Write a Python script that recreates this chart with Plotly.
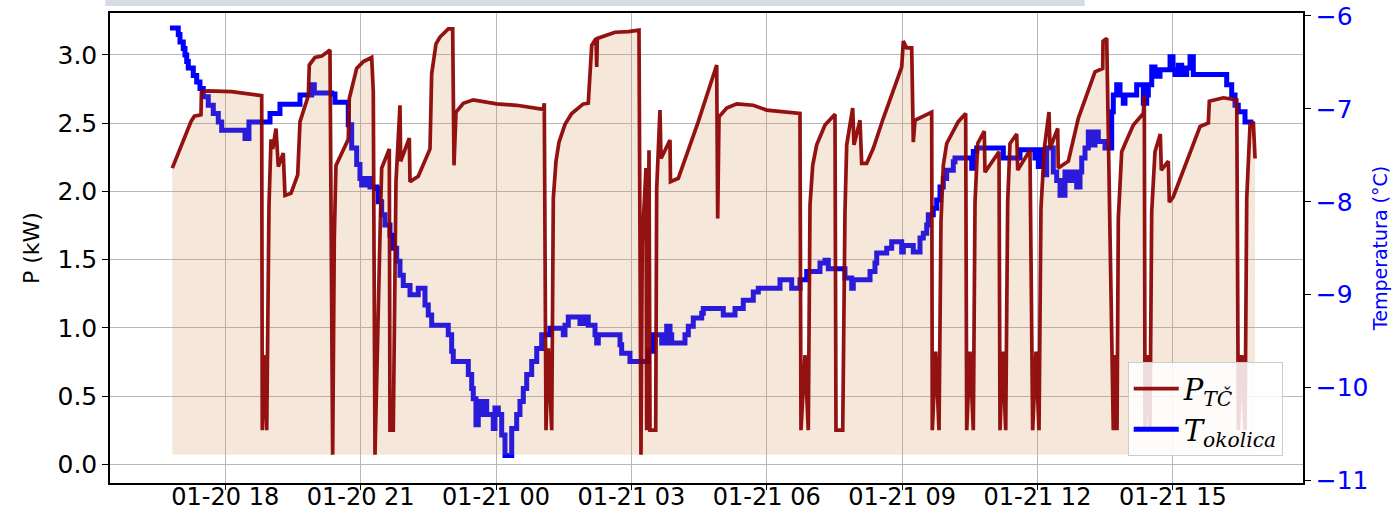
import pandas as pd
import plotly.graph_objects as go

# hours since 2024-01-20 00:00
p_hours = [16.825, 17.24, 17.313, 17.461, 17.472, 17.623, 18.142, 18.51, 18.807, 18.82,
           18.851, 18.918, 18.969, 19.013, 19.051, 19.124, 19.175, 19.285, 19.323, 19.456,
           19.605, 19.656, 19.84, 19.862, 19.988, 20.137, 20.32, 20.38, 20.416, 20.453,
           20.726, 20.748, 20.912, 21.059, 21.245, 21.28, 21.318, 21.429, 21.466, 21.635,
           21.65, 21.723, 21.783, 21.872, 21.887, 22.078, 22.094, 22.277, 22.537, 22.574,
           22.67, 22.758, 22.942, 23.04, 23.069, 23.113, 23.275, 23.496, 23.867, 24.015,
           24.458, 24.975, 25.048, 25.07, 25.108, 25.159, 25.234, 25.27, 25.329, 25.396,
           25.529, 25.677, 25.934, 26.045, 26.121, 26.216, 26.232, 26.245, 26.342, 26.637,
           26.932, 27.169, 27.213, 27.242, 27.324, 27.339, 27.391, 27.413, 27.539, 27.561,
           27.634, 27.657, 27.856, 27.867, 28.04, 28.483, 28.891, 28.913, 28.942, 29.075,
           29.113, 29.334, 29.702, 29.999, 30.443, 30.737, 30.759, 30.848, 30.921, 30.959,
           31.019, 31.107, 31.291, 31.513, 31.535, 31.684, 31.734, 31.772, 31.905, 31.934,
           32.067, 32.104, 32.215, 32.362, 32.583, 32.991, 33.027, 33.102, 33.213, 33.248,
           33.286, 33.656, 33.669, 33.745, 33.818, 33.862, 33.913, 33.988, 34.245, 34.409,
           34.432, 34.505, 34.578, 34.616, 34.676, 34.822, 34.837, 35.148, 35.17, 35.23,
           35.296, 35.34, 35.391, 35.54, 35.562, 35.834, 35.894, 35.967, 36.034, 36.078,
           36.152, 36.256, 36.278, 36.449, 36.462, 36.684, 36.905, 37.275, 37.446, 37.453,
           37.535, 37.681, 37.73, 37.763, 37.792, 37.867, 37.978, 38.125, 38.346, 38.368,
           38.384, 38.44, 38.494, 38.532, 38.605, 38.723, 38.745, 38.9, 38.922, 39.01,
           39.604, 39.787, 39.809, 40.119, 40.417, 40.452, 40.527, 40.6, 40.638, 40.711,
           40.784, 40.822]
p_kw = [2.17, 2.51, 2.55, 2.56, 2.73, 2.735, 2.73, 2.71, 2.70, 0.25,
        0.80, 0.25, 1.90, 2.38, 2.31, 2.46, 2.18, 2.28, 1.97, 1.985,
        2.12, 2.51, 2.70, 2.925, 2.98, 2.99, 3.035, 0.07, 1.66, 2.19,
        2.38, 2.68, 2.90, 2.95, 2.98, 2.73, 0.07, 1.68, 2.17, 2.31,
        0.25, 0.25, 2.07, 2.63, 2.22, 2.39, 2.07, 2.11, 2.31, 2.86,
        3.08, 3.13, 3.19, 3.19, 2.19, 2.58, 2.645, 2.67, 2.65, 2.64,
        2.63, 2.60, 2.60, 2.645, 0.25, 0.85, 0.25, 1.95, 2.22, 2.36,
        2.49, 2.57, 2.64, 2.645, 3.07, 3.12, 2.91, 3.12, 3.13, 3.165,
        3.17, 3.18, 0.07, 1.63, 2.17, 0.25, 2.30, 0.25, 0.25, 2.02,
        2.595, 2.24, 2.375, 2.07, 2.095, 2.51, 2.925, 1.80, 2.545, 2.595,
        2.61, 2.64, 2.63, 2.595, 2.58, 2.57, 0.25, 0.80, 0.25, 1.90,
        2.19, 2.34, 2.485, 2.565, 0.25, 0.25, 1.85, 2.34, 2.61, 2.34,
        2.52, 2.205, 2.205, 2.315, 2.535, 2.91, 3.10, 3.05, 3.05, 2.36,
        2.52, 2.58, 0.25, 0.825, 0.25, 1.78, 2.19, 2.35, 2.51, 2.57,
        0.25, 0.825, 0.25, 1.92, 2.35, 2.44, 2.14, 2.29, 0.25, 0.825,
        0.25, 1.92, 2.35, 2.42, 2.155, 2.30, 0.25, 0.825, 0.25, 1.875,
        2.315, 2.58, 2.315, 2.46, 2.17, 2.22, 2.535, 2.875, 2.90, 3.10,
        3.12, 0.25, 0.80, 0.25, 1.80, 2.29, 2.375, 2.485, 2.57, 2.705,
        0.25, 0.80, 0.25, 1.85, 2.29, 2.42, 2.155, 2.22, 1.92, 1.96,
        2.475, 2.50, 2.66, 2.685, 2.67, 0.25, 0.80, 0.25, 1.95, 2.485,
        2.51, 2.24]

t_hours = [16.774, 16.923, 16.958, 16.996, 17.069, 17.107, 17.145, 17.18, 17.291, 17.366,
           17.439, 17.512, 17.623, 17.734, 17.845, 17.92, 18.399, 18.437, 18.51, 18.525,
           18.953, 18.991, 19.18, 19.212, 19.618, 19.656, 19.84, 19.915, 19.973, 20.358,
           20.431, 20.691, 20.726, 20.801, 20.912, 20.985, 21.023, 21.134, 21.207, 21.356,
           21.391, 21.466, 21.539, 21.65, 21.723, 21.799, 21.872, 21.945, 22.094, 22.242,
           22.277, 22.353, 22.426, 22.499, 22.574, 22.869, 22.942, 23.017, 23.053, 23.313,
           23.386, 23.461, 23.496, 23.556, 23.607, 23.645, 23.718, 23.793, 23.904, 23.94,
           23.977, 24.051, 24.126, 24.199, 24.31, 24.348, 24.458, 24.531, 24.605, 24.68,
           24.791, 24.902, 25.012, 25.196, 25.418, 25.491, 25.529, 25.602, 25.824, 25.861,
           25.934, 26.045, 26.194, 26.231, 26.267, 26.71, 26.748, 26.785, 26.932, 26.969,
           27.302, 27.375, 27.486, 27.634, 27.672, 27.783, 27.856, 27.894, 28.115, 28.188,
           28.262, 28.372, 28.559, 28.594, 28.964, 29.037, 29.259, 29.297, 29.48, 29.702,
           29.813, 30.221, 30.294, 30.478, 30.553, 30.699, 30.737, 30.886, 31.07, 31.18,
           31.291, 31.364, 31.624, 31.734, 31.883, 31.918, 32.215, 32.289, 32.399, 32.437,
           32.659, 32.769, 32.953, 32.991, 33.027, 33.213, 33.248, 33.324, 33.397, 33.47,
           33.545, 33.581, 33.691, 33.767, 33.84, 33.913, 33.988, 34.135, 34.172, 34.505,
           34.543, 34.578, 34.653, 35.207, 35.243, 35.569, 35.613, 35.834, 35.945, 36.019,
           36.056, 36.167, 36.205, 36.3, 36.351, 36.426, 36.5, 36.573, 36.61, 36.684,
           36.794, 36.87, 36.943, 36.981, 37.054, 37.127, 37.238, 37.275, 37.348, 37.497,
           37.57, 37.645, 37.681, 37.756, 37.83, 37.902, 37.94, 38.124, 38.199, 38.273,
           38.346, 38.421, 38.457, 38.532, 38.605, 38.672, 38.716, 38.864, 38.938, 39.004,
           39.048, 39.122, 39.197, 39.308, 39.381, 39.454, 40.119, 40.194, 40.305, 40.378,
           40.451, 40.562, 40.6, 40.784]
t_degc = [-6.13, -6.13, -6.20, -6.28, -6.35, -6.42, -6.49, -6.56, -6.64, -6.71,
          -6.78, -6.87, -6.96, -7.05, -7.14, -7.23, -7.23, -7.32, -7.32, -7.14,
          -7.14, -7.05, -7.05, -6.95, -6.95, -6.85, -6.85, -6.74, -6.83, -6.84,
          -6.93, -6.93, -7.17, -7.42, -7.60, -7.75, -7.82, -7.75, -7.84, -7.86,
          -8.00, -8.14, -8.25, -8.36, -8.50, -8.64, -8.79, -8.90, -9.00, -9.00,
          -8.93, -8.93, -9.11, -9.22, -9.33, -9.33, -9.43, -9.61, -9.72, -9.72,
          -9.86, -10.01, -10.12, -10.40, -10.15, -10.29, -10.15, -10.29, -10.29, -10.44,
          -10.22, -10.29, -10.51, -10.73, -10.73, -10.44, -10.29, -10.15, -10.01, -9.86,
          -9.72, -9.58, -9.43, -9.36, -9.36, -9.43, -9.33, -9.24, -9.24, -9.31,
          -9.24, -9.33, -9.43, -9.52, -9.43, -9.43, -9.54, -9.63, -9.63, -9.72,
          -9.72, -9.61, -9.43, -9.43, -9.52, -9.34, -9.43, -9.52, -9.52, -9.43,
          -9.34, -9.25, -9.20, -9.15, -9.15, -9.22, -9.22, -9.15, -9.06, -8.97,
          -8.93, -8.93, -8.84, -8.84, -8.93, -8.93, -8.84, -8.75, -8.75, -8.66,
          -8.63, -8.72, -8.72, -8.82, -8.93, -8.84, -8.84, -8.75, -8.66, -8.55,
          -8.50, -8.43, -8.43, -8.54, -8.47, -8.47, -8.54, -8.54, -8.39, -8.34,
          -8.25, -8.14, -8.07, -7.98, -7.84, -7.75, -7.66, -7.57, -7.53, -7.53,
          -7.64, -7.46, -7.42, -7.42, -7.53, -7.53, -7.44, -7.44, -7.53, -7.62,
          -7.44, -7.71, -7.42, -7.42, -7.68, -7.77, -7.93, -7.93, -7.68, -7.77,
          -7.68, -7.84, -7.68, -7.53, -7.42, -7.25, -7.39, -7.25, -7.35, -7.42,
          -7.42, -7.03, -6.85, -6.74, -6.85, -6.94, -6.85, -6.85, -6.74, -6.74,
          -6.94, -6.85, -6.74, -6.55, -6.65, -6.65, -6.58, -6.58, -6.44, -6.58,
          -6.63, -6.53, -6.63, -6.56, -6.44, -6.63, -6.63, -6.74, -6.85, -6.96,
          -7.03, -7.03, -7.14, -7.14]

x_tick_hours = [18, 21, 24, 27, 30, 33, 36, 39]
p_ticks = [0.0, 0.5, 1.0, 1.5, 2.0, 2.5, 3.0]
t_ticks = [-6, -7, -8, -9, -10, -11]

base = pd.Timestamp("2024-01-20 00:00")
def to_time(hours):
    return base + pd.to_timedelta(pd.Series(hours), unit="h")

p_time = to_time(p_hours)
t_time = to_time(t_hours)
p_min = min(p_kw)

fig = go.Figure()

# power (on overlaying y2, drawn above the temperature layer)
fig.add_trace(go.Scatter(
    x=p_time, y=[p_min] * len(p_kw), mode="lines", line=dict(width=0),
    showlegend=False, yaxis="y2", hoverinfo="skip",
))
fig.add_trace(go.Scatter(
    x=p_time, y=p_kw, mode="lines", line=dict(width=0), fill="tonexty",
    fillcolor="rgba(205,133,63,0.2)", showlegend=False, yaxis="y2", hoverinfo="skip",
))
fig.add_trace(go.Scatter(
    x=p_time, y=p_kw, mode="lines", line=dict(color="rgba(139,0,0,0.93)", width=3.7),
    name="<i>P</i><sub><i>TČ</i></sub>", yaxis="y2",
))
# temperature (primary axis, right side)
fig.add_trace(go.Scatter(
    x=t_time, y=t_degc, mode="lines", line=dict(color="#0000ff", width=5, shape="hv"),
    name="<i>T</i><sub><i>okolica</i></sub>", yaxis="y",
))

t0 = 15.445
t1 = 41.885
fig.update_layout(
    width=1400, height=523,
    margin=dict(l=110, r=97, t=13, b=40, autoexpand=False),
    paper_bgcolor="white", plot_bgcolor="white",
    font=dict(family="DejaVu Sans", size=25, color="black"),
    xaxis=dict(
        range=[base + pd.Timedelta(hours=t0), base + pd.Timedelta(hours=t1)],
        tickvals=list(to_time(x_tick_hours)), tickformat="%m-%d %H",
        showgrid=True, gridcolor="#b8b8b8", gridwidth=1.2,
        showline=True, linecolor="black", linewidth=1.5, mirror=True,
        ticks="outside", ticklen=5, tickcolor="black", tickfont=dict(size=24),
        zeroline=False, automargin=False, ticklabelstandoff=-14,
    ),
    yaxis=dict(
        side="right", range=[-11.027, -5.968], tickvals=t_ticks,
        showgrid=False, zeroline=False, automargin=False,
        showline=True, linecolor="black", linewidth=1.5,
        ticks="outside", ticklen=6, tickcolor="black",
        tickfont=dict(size=25, color="#0000ff"),
        title=dict(text="Temperatura (°C)", font=dict(size=19, color="#0000ff"), standoff=6),
    ),
    yaxis2=dict(
        side="left", overlaying="y", range=[-0.137, 3.306], tickvals=p_ticks,
        tickformat=".1f", showgrid=True, gridcolor="#b8b8b8", gridwidth=1.2,
        zeroline=False, showline=True, linecolor="black", linewidth=1.5, automargin=False,
        ticks="outside", ticklen=6, tickcolor="black", tickfont=dict(size=25),
        title=dict(text="P (kW)", font=dict(size=22), standoff=12),
    ),
    legend=dict(
        x=0.983, y=0.057, xanchor="right", yanchor="bottom",
        bgcolor="rgba(255,255,255,0.85)", bordercolor="#cccccc", borderwidth=1,
        font=dict(family="DejaVu Serif", size=29, color="black"),
        tracegroupgap=0, itemwidth=45, traceorder="normal", entrywidth=125,
    ),
    shapes=[dict(type="rect", xref="paper", yref="paper", x0=-0.004, x1=0.817,
                 y0=1.015, y1=1.05, fillcolor="#d6dce6", line=dict(width=0), layer="below")],
    showlegend=True,
)

fig.write_html(
    "out.html",
    config={"displayModeBar": False},
    post_script="document.body.style.margin='0px';document.body.style.overflow='hidden';",
)
